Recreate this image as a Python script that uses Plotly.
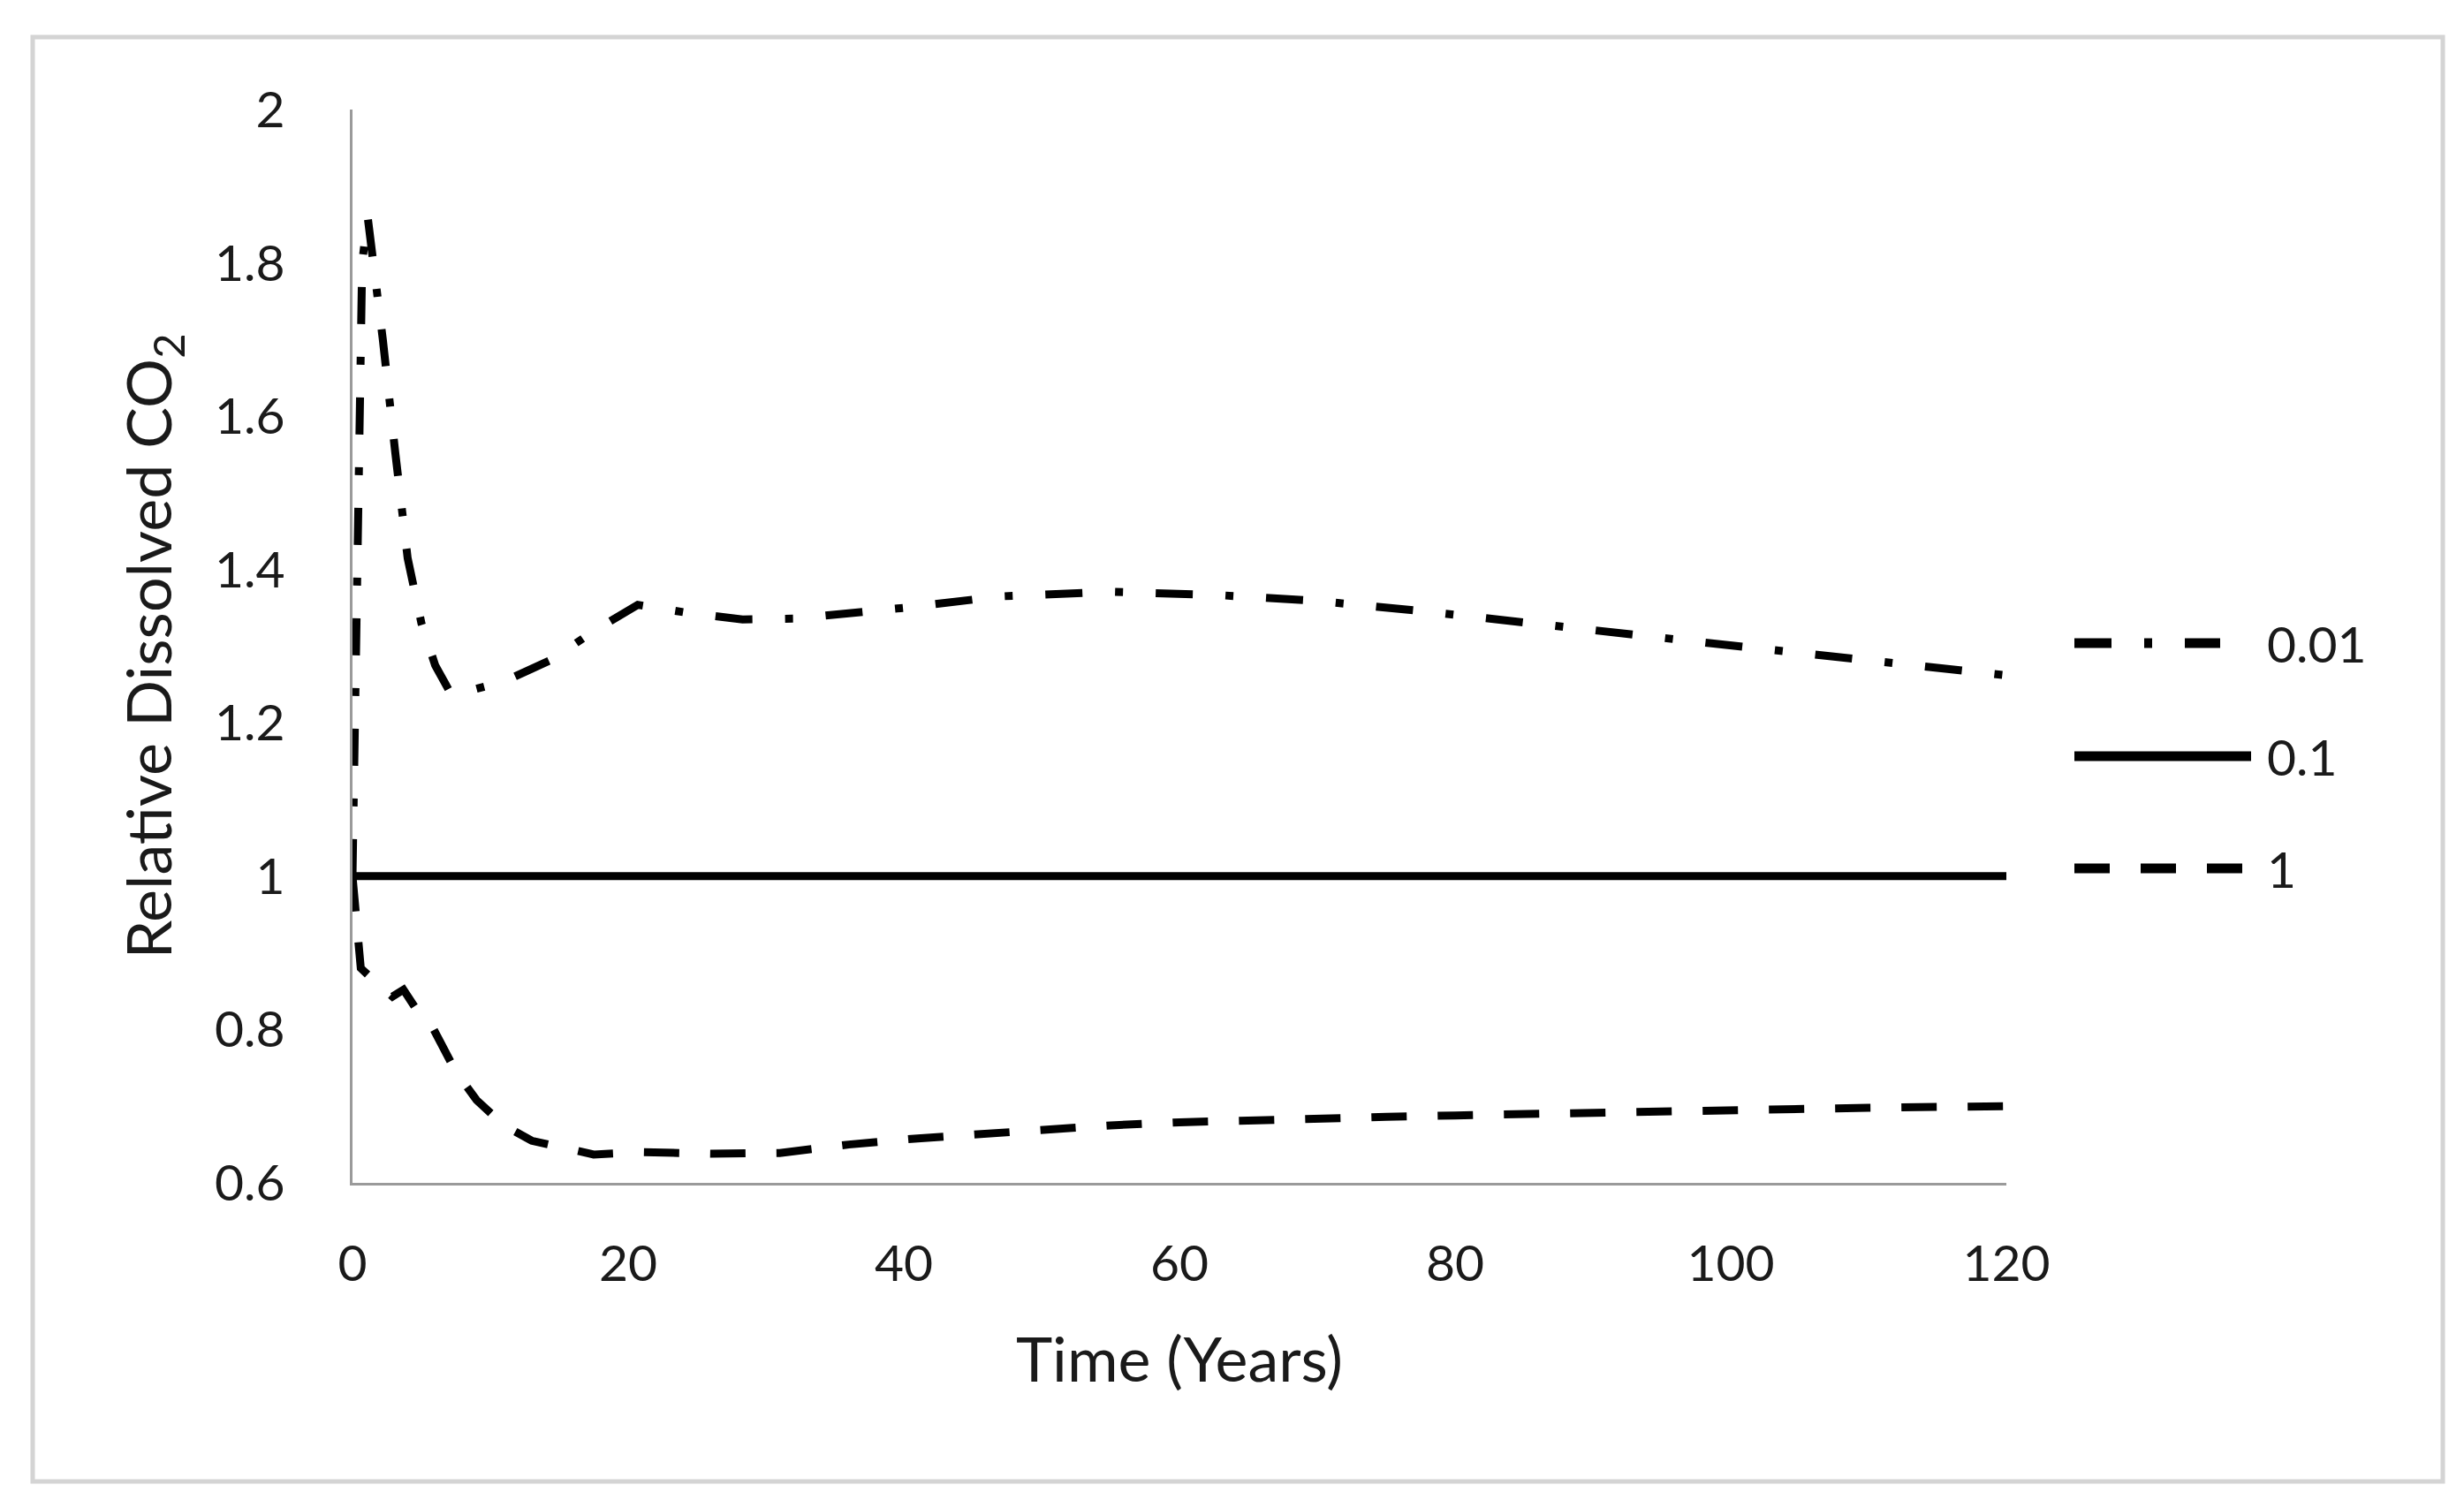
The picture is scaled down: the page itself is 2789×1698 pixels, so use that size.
import plotly.graph_objects as go

# ---- data ----
years_001 = [0, 0.25, 0.5, 0.7, 1.1, 1.7, 2.2, 3.1, 4.0, 5.0, 6.0, 7.2, 9, 11, 14.4,
             17.7, 20.7, 24.5, 28.3, 32.1, 36, 40, 47, 55, 62.5, 70, 78, 86, 93.5,
             101, 108.5, 116, 120]
co2_001 = [1.0, 1.30, 1.58, 1.80, 1.86, 1.78, 1.70, 1.553, 1.415, 1.33, 1.275, 1.236,
           1.245, 1.254, 1.282, 1.322, 1.354, 1.343, 1.335, 1.336, 1.343, 1.350, 1.365,
           1.371, 1.367, 1.359, 1.345, 1.330, 1.314, 1.299, 1.284, 1.269, 1.262]

years_01 = [0, 120]
co2_01 = [1.0, 1.0]

years_1 = [0, 0.3, 0.6, 1.5, 2.9, 3.7, 4.5, 5.6, 7.5, 9, 11, 13, 15.5, 17.5, 21, 26,
           31, 36, 41, 46, 50.5, 55, 60, 65, 70, 75, 80, 85, 90, 95, 100, 105, 110,
           115, 120]
co2_1 = [1.0, 0.93, 0.88, 0.865, 0.843, 0.852, 0.83, 0.81, 0.745, 0.708, 0.675, 0.655,
         0.645, 0.637, 0.640, 0.638, 0.639, 0.650, 0.658, 0.665, 0.670, 0.675, 0.679,
         0.682, 0.683, 0.686, 0.688, 0.690, 0.692, 0.694, 0.696, 0.697, 0.698, 0.699,
         0.700]

series_names = ["0.01", "0.1", "1"]
x_ticks = [0, 20, 40, 60, 80, 100, 120]
y_ticks = [0.6, 0.8, 1.0, 1.2, 1.4, 1.6, 1.8, 2.0]
y_tick_text = ["0.6", "0.8", "1", "1.2", "1.4", "1.6", "1.8", "2"]

# ---- styles ----
W, H = 2789, 1698
L, R, T, B = 391, 526, 116, 367
PW, PH = W - L - R, H - T - B
FONT = "Lato, Calibri, Carlito, sans-serif"
LW = 9
dashes = {"0.01": "42px,37px,9px,37px", "0.1": "solid", "1": "40px,35px"}


def px_to_paper_x(px):
    return (px - L) / PW


def px_to_paper_y(py):
    return (H - B - py) / PH


fig = go.Figure()
for name, xs, ys in [("0.01", years_001, co2_001), ("0.1", years_01, co2_01), ("1", years_1, co2_1)]:
    fig.add_trace(go.Scatter(x=xs, y=ys, mode="lines", name=name, showlegend=False,
                             line=dict(color="black", width=LW, dash=dashes[name])))

# outer chart border
fig.add_shape(type="rect", xref="paper", yref="paper",
              x0=px_to_paper_x(29), x1=px_to_paper_x(2757),
              y0=px_to_paper_y(1669), y1=px_to_paper_y(34),
              line=dict(color="#d4d4d4", width=5), fillcolor="rgba(0,0,0,0)", layer="below")

# legend (drawn manually for long line samples)
leg_y = [720, 848, 975]
leg_x0, leg_x1 = 2340, 2540
for name, py in zip(series_names, leg_y):
    fig.add_shape(type="line", xref="paper", yref="paper",
                  x0=px_to_paper_x(leg_x0), x1=px_to_paper_x(leg_x1 if name != "0.01" else 2505),
                  y0=px_to_paper_y(py), y1=px_to_paper_y(py),
                  line=dict(color="black", width=LW + 2, dash=dashes[name]))
    fig.add_annotation(xref="paper", yref="paper", x=px_to_paper_x(2556), y=px_to_paper_y(py),
                       text=name, showarrow=False, xanchor="left", yanchor="middle",
                       font=dict(family=FONT, size=57, color="#1a1a1a"))

fig.update_layout(
    width=W, height=H,
    margin=dict(l=L, r=R, t=T, b=B, autoexpand=False),
    paper_bgcolor="white", plot_bgcolor="white",
    font=dict(family=FONT, color="#1a1a1a"),
    showlegend=False,
)
fig.update_xaxes(range=[0, 120], tickvals=x_ticks, showgrid=False, zeroline=False,
                 showline=True, linecolor="#9a9a9a", linewidth=3, ticks="",
                 ticklabelstandoff=40, tickfont=dict(family=FONT, size=57, color="#1a1a1a"),
                 title=dict(text="Time (Years)", font=dict(family=FONT, size=70, color="#1a1a1a"),
                            standoff=54))
fig.update_yaxes(range=[0.6, 2.0], tickvals=y_ticks, ticktext=y_tick_text, showgrid=False,
                 zeroline=False, showline=True, linecolor="#9a9a9a", linewidth=3, ticks="",
                 ticklabelstandoff=62, tickfont=dict(family=FONT, size=57, color="#1a1a1a"),
                 title=dict(text="Relative Dissolved CO<sub>2</sub>",
                            font=dict(family=FONT, size=70, color="#1a1a1a"), standoff=26))

fig.write_html("out.html")
